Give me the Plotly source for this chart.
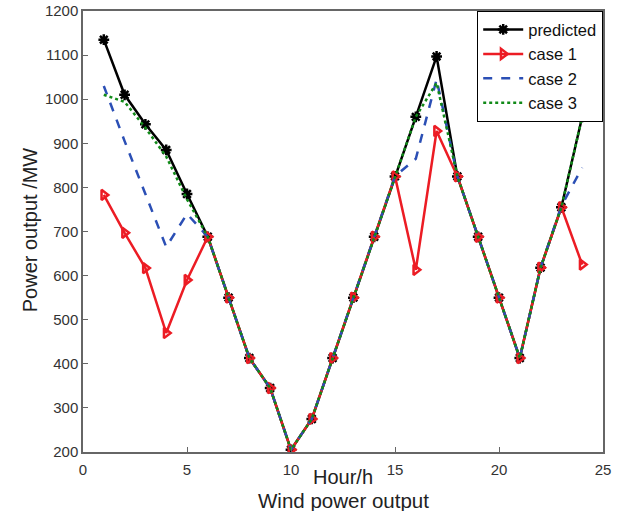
import plotly.graph_objects as go

hours = list(range(1, 25))
predicted = [1135, 1010, 943, 885, 785, 688, 550, 413, 345, 205, 275, 413,
             550, 688, 825, 960, 1097, 825, 688, 550, 413, 618, 755, 960]
case1 = [783, 697, 617, 470, 590, 688, 550, 413, 345, 205, 275, 413,
         550, 688, 825, 613, 928, 825, 688, 550, 413, 618, 755, 625]
case2 = [1030, 905, 785, 665, 740, 688, 550, 413, 345, 205, 275, 413,
         550, 688, 825, 865, 1045, 825, 688, 550, 413, 618, 758, 845]
case3 = [1010, 994, 935, 870, 773, 688, 550, 413, 345, 205, 275, 413,
         550, 688, 825, 960, 1037, 825, 688, 550, 413, 618, 755, 960]
x_ticks = [0, 5, 10, 15, 20, 25]
y_ticks = [200, 300, 400, 500, 600, 700, 800, 900, 1000, 1100, 1200]

FONT = "Liberation Sans, Arial, sans-serif"
fig = go.Figure()
fig.add_trace(go.Scatter(x=hours, y=predicted, name="predicted", mode="lines+markers",
                         line=dict(color="black", width=2.5),
                         marker=dict(symbol="asterisk-open", size=9, color="black",
                                     line=dict(color="black", width=2.5))))
fig.add_trace(go.Scatter(x=hours, y=case1, name="case 1", mode="lines+markers",
                         line=dict(color="#ec1c24", width=2.5),
                         marker=dict(symbol="triangle-right-open", size=9, color="#ec1c24",
                                     line=dict(color="#ec1c24", width=2.5))))
fig.add_trace(go.Scatter(x=hours, y=case2, name="case 2", mode="lines",
                         line=dict(color="#2b4fb5", width=2.5, dash="dash")))
fig.add_trace(go.Scatter(x=hours, y=case3, name="case 3", mode="lines",
                         line=dict(color="#118a18", width=2.5, dash="dot")))

axis_common = dict(showgrid=False, zeroline=False, showline=True, linecolor="#666666",
                   linewidth=1.5, mirror=True, ticks="inside", ticklen=5,
                   tickcolor="#666666", automargin=False,
                   tickfont=dict(family=FONT, size=15, color="#333333"))
fig.update_xaxes(range=[0, 25], tickvals=x_ticks, ticklabelstandoff=3, **axis_common)
fig.update_yaxes(range=[200, 1200], tickvals=y_ticks, **axis_common)

fig.update_layout(
    width=619, height=511,
    margin=dict(l=83, r=16, t=11, b=59),
    plot_bgcolor="white", paper_bgcolor="white",
    font=dict(family=FONT, color="#222222"),
    legend=dict(x=1, y=1, xanchor="right", yanchor="top", bgcolor="white",
                bordercolor="black", borderwidth=1.2,
                font=dict(family=FONT, size=16.5, color="#111111"),
                tracegroupgap=0, itemwidth=40),
    annotations=[
        dict(text="Hour/h", xref="paper", yref="paper", x=0.5, y=-0.028,
             xanchor="center", yanchor="top", showarrow=False,
             font=dict(family=FONT, size=20, color="#222222")),
        dict(text="Wind power output", xref="paper", yref="paper", x=0.5, y=-0.08,
             xanchor="center", yanchor="top", showarrow=False,
             font=dict(family=FONT, size=20.5, color="#222222")),
        dict(text="Power output /MW", xref="paper", yref="paper", x=-0.102, y=0.505,
             xanchor="center", yanchor="middle", showarrow=False, textangle=-90,
             font=dict(family=FONT, size=20, color="#222222")),
    ],
)
fig.write_html("out.html", config={"displayModeBar": False},
               post_script="document.body.style.margin='0';")
